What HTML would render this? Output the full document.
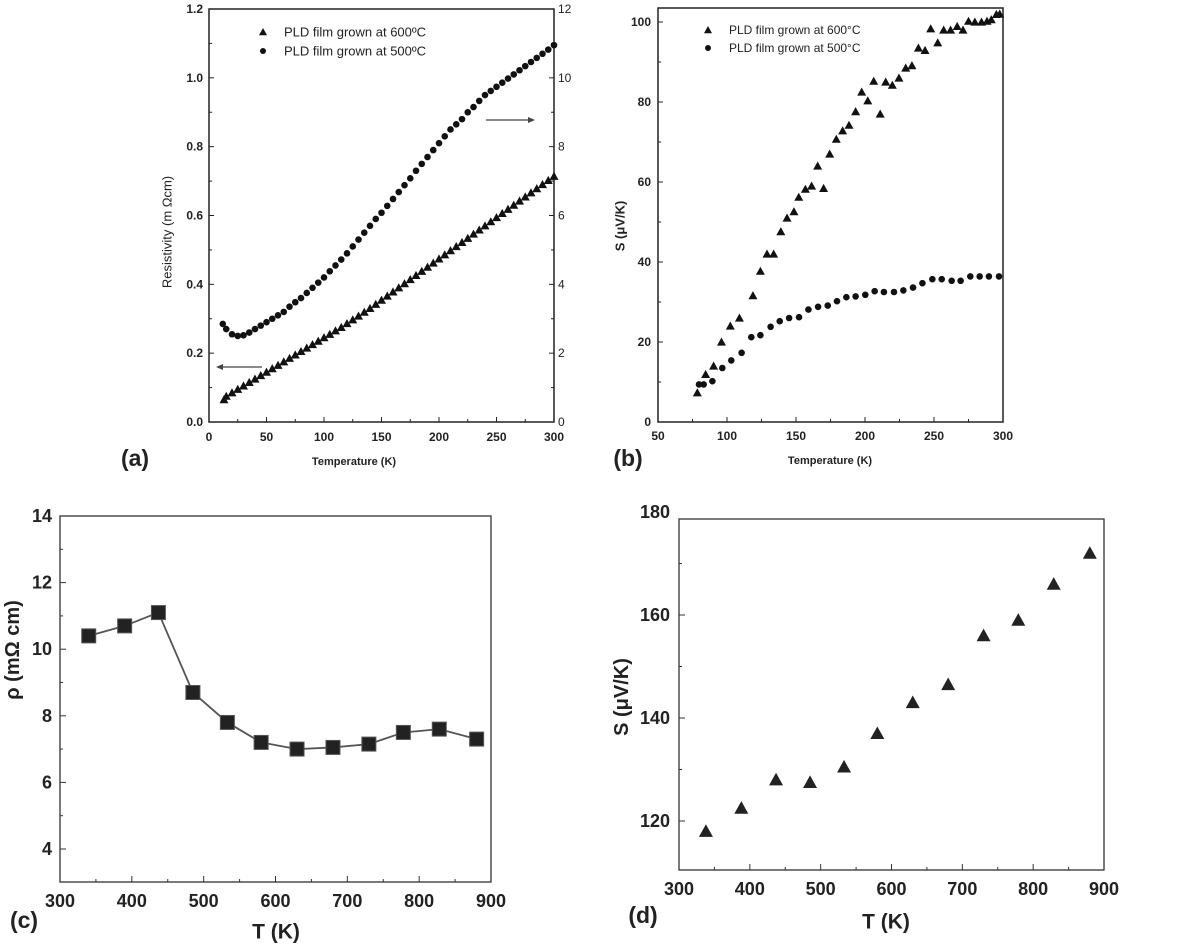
<!DOCTYPE html>
<html><head><meta charset="utf-8"><style>
html,body{margin:0;padding:0;background:#fff;}
svg{display:block;font-family:"Liberation Sans",Arial,sans-serif;}
</style></head><body>
<svg id="fig" width="1196" height="945" viewBox="0 0 1196 945" xmlns="http://www.w3.org/2000/svg"></svg>
<script>
// ---- panel (a) data ----
const aTemps = [13,15,20,25,30,35,40,45,50,55,60,65,70,75,80,85,90,95,100,105,110,115,120,125,130,135,140,145,150,155,160,165,170,175,180,185,190,195,200,205,210,215,220,225,230,235,240,245,250,255,260,265,270,275,280,285,290,295,300];
const aRho600 = [0.065,0.075,0.085,0.095,0.105,0.115,0.125,0.135,0.145,0.155,0.165,0.175,0.185,0.195,0.205,0.215,0.225,0.235,0.245,0.255,0.265,0.275,0.286,0.297,0.308,0.319,0.33,0.342,0.354,0.366,0.378,0.39,0.402,0.414,0.426,0.438,0.45,0.462,0.474,0.486,0.498,0.51,0.522,0.534,0.546,0.558,0.57,0.582,0.594,0.606,0.618,0.63,0.642,0.654,0.666,0.678,0.69,0.702,0.714];
const aTemps500 = [12,15,20,25,30,35,40,45,50,55,60,65,70,75,80,85,90,95,100,105,110,115,120,125,130,135,140,145,150,155,160,165,170,175,180,185,190,195,200,205,210,215,220,225,230,235,240,245,250,255,260,265,270,275,280,285,290,295,300];
const aRho500 = [2.85,2.7,2.55,2.5,2.52,2.6,2.7,2.8,2.9,3.0,3.1,3.2,3.35,3.48,3.6,3.75,3.9,4.05,4.2,4.38,4.55,4.72,4.9,5.1,5.3,5.5,5.7,5.9,6.08,6.28,6.48,6.68,6.88,7.08,7.3,7.5,7.7,7.9,8.1,8.3,8.5,8.65,8.8,9.0,9.15,9.33,9.5,9.62,9.74,9.86,9.98,10.1,10.22,10.34,10.46,10.58,10.7,10.82,10.95];
const aXTicks = ["0","50","100","150","200","250","300"];
const aYTicks = ["0.0","0.2","0.4","0.6","0.8","1.0","1.2"];
const aY2Ticks = ["0","2","4","6","8","10","12"];
// ---- panel (b) data ----
const bT600 = [78.5,84.5,90.3,96,102.4,109,118.8,124.2,129,133.8,139,143.5,148.5,152,156.8,161.3,165.7,170,174.4,179.2,183.8,188.4,193.2,197.6,202,206.3,211,215,219.8,224.6,229.5,234,238.7,243.5,247.6,252.7,257,262,266.8,271,275,279.6,284.4,288.4,291.5,295.2,297.6];
const bS600 = [7.3,11.9,14,20,24,26,31.6,37.7,42,42,47.6,51,52.6,56.2,58.2,59,64,58.4,67,70.7,72.8,74.2,77.6,82.5,80.3,85.2,77,85,84.2,86,88.5,89.1,93.5,92.9,98.3,94.8,98,98,98.9,98,100.2,100,100,100.2,100.6,101.9,102];
const bT500 = [79.7,83.1,89.4,96.6,103.1,110.6,117.6,124.2,131.6,138.2,145,152.2,159,166,173,179.7,186.5,193.2,200.2,207,213.7,221,227.8,234.8,241.6,248.8,255.6,262.8,269.3,276.3,283.1,289.8,297.1];
const bS500 = [9.4,9.4,10.2,13.5,15.4,17.3,21.2,21.7,23.8,25.2,26,26.2,28.1,28.8,29.1,30.2,31.2,31.4,31.8,32.7,32.5,32.5,32.9,33.6,34.7,35.7,35.7,35.3,35.3,36.4,36.4,36.4,36.4];
const bXTicks = ["50","100","150","200","250","300"];
const bYTicks = ["0","20","40","60","80","100"];
// ---- panel (c) data ----
const cT = [340,390,437,485,533,580,630,680,730,778,828,880];
const cRho = [10.4,10.7,11.1,8.7,7.8,7.2,7.0,7.05,7.15,7.5,7.6,7.3];
const cXTicks = ["300","400","500","600","700","800","900"];
const cYTicks = ["4","6","8","10","12","14"];
// ---- panel (d) data ----
const dT = [338,388,437,485,533,580,630,680,730,779,829,880];
const dS = [118,122.5,128,127.5,130.5,137,143,146.5,156,159,166,172];
const dXTicks = ["300","400","500","600","700","800","900"];
const dYTicks = ["120","140","160","180"];

const NS = "http://www.w3.org/2000/svg";
const svg = document.getElementById('fig');
function el(tag, attrs, parent){
  const e = document.createElementNS(NS, tag);
  for (const k in attrs) e.setAttribute(k, attrs[k]);
  (parent||svg).appendChild(e);
  return e;
}
function txt(s, x, y, size, anchor, weight, parent){
  const t = el('text', {x:x, y:y, 'font-size':size, 'text-anchor':anchor||'middle', 'font-weight':weight||'bold', fill:'#222', 'dominant-baseline':'central'}, parent);
  t.textContent = s;
  return t;
}
function lin(d0,d1,r0,r1){ return v => r0 + (v-d0)/(d1-d0)*(r1-r0); }
function tri(g,x,y,s){ return el('polygon',{points:`${x},${y-s} ${x-s},${y+s*0.8} ${x+s},${y+s*0.8}`, fill:'#111'},g); }

// ================= Panel A =================
(function(){
  const g = el('g',{});  
  const L=209,R=554,T=9,B=422;
  const x = lin(0,300,L,R), y = lin(0,1.2,B,T), y2 = lin(0,12,B,T);
  const frame = el('rect',{x:L,y:T,width:R-L,height:B-T,fill:'none',stroke:'#222','stroke-width':1.5},g);
   
  for(let v=0; v<=300; v+=25){ const X=x(v); el('line',{x1:X,y1:B,x2:X,y2:B-(v%50?3:5),stroke:'#222'},g); }
  aXTicks.forEach(s=>{ const t=txt(s,x(+s),437,12,'middle','bold',g);   });
  for(let i=0;i<=12;i++){ const v=i*0.1; el('line',{x1:L,y1:y(v),x2:L+(i%2?3:5),y2:y(v),stroke:'#222'},g); el('line',{x1:R,y1:y(v),x2:R-(i%2?3:5),y2:y(v),stroke:'#222'},g); }
  aYTicks.forEach(s=>{ const t=txt(s,203,y(+s),12,'end','bold',g);   });
  aY2Ticks.forEach(s=>{ const t=txt(s,558,y2(+s),12,'start','normal',g);   });
  const xt = txt('Temperature (K)',354,462,11,'middle','bold',g);  
  const yt = txt('Resistivity (m \u03A9cm)',0,0,13,'middle','normal',g); yt.setAttribute('transform','translate(167,232) rotate(-90)');
   
  const lab = txt('(a)',135,458,23,'middle','bold',g);  
  aTemps500.forEach((t,i)=>{ const c=el('circle',{cx:x(t),cy:y2(aRho500[i]),r:3.3,fill:'#111'},g);   });
  aTemps.forEach((t,i)=>{ const p=tri(g,x(t),y(aRho600[i]),4.5);   });
  const lg = el('g',{},g);  
  tri(lg,263,32,4); txt('PLD film grown at 600\u00BAC',284,32,13,'start','normal',lg);
  el('circle',{cx:263,cy:51,r:3,fill:'#111'},lg); txt('PLD film grown at 500\u00BAC',284,51,13,'start','normal',lg);
  const a1=el('g',{},g);  
  el('line',{x1:262,y1:367,x2:220,y2:367,stroke:'#444','stroke-width':1.2},a1);
  el('polygon',{points:'216,367 223,364 223,370',fill:'#444'},a1);
  const a2=el('g',{},g);  
  el('line',{x1:486,y1:120,x2:530,y2:120,stroke:'#444','stroke-width':1.2},a2);
  el('polygon',{points:'535,120 528,117 528,123',fill:'#444'},a2);
})();

// ================= Panel B =================
(function(){
  const g = el('g',{});  
  const L=658,R=1003,T=8,B=422;
  const x = lin(50,300,L,R), y = lin(0,100,B,22);
  const frame = el('rect',{x:L,y:T,width:R-L,height:B-T,fill:'none',stroke:'#222','stroke-width':1.5},g);
   
  for(let v=50; v<=300; v+=25){ const X=x(v); el('line',{x1:X,y1:B,x2:X,y2:B-(v%50?3:5),stroke:'#222'},g); }
  bXTicks.forEach(s=>{ const t=txt(s,x(+s),436,12,'middle','bold',g);   });
  for(let v=0; v<=100; v+=10){ el('line',{x1:L,y1:y(v),x2:L+(v%20?3:5),y2:y(v),stroke:'#222'},g); }
  bYTicks.forEach(s=>{ const t=txt(s,651,y(+s),12,'end','bold',g);   });
  const xt = txt('Temperature (K)',830,461,11,'middle','bold',g);  
  const yt = txt('S (\u03BCV/K)',0,0,13,'middle','bold',g); yt.setAttribute('transform','translate(620,226) rotate(-90)');
   
  const lab = txt('(b)',628,458,23,'middle','bold',g);  
  bT500.forEach((t,i)=>{ const c=el('circle',{cx:x(t),cy:y(bS500[i]),r:3.3,fill:'#111'},g);   });
  bT600.forEach((t,i)=>{ const p=tri(g,x(t),y(bS600[i]),4.5);   });
  const lg = el('g',{},g);  
  tri(lg,708,30,4); txt('PLD film grown at 600\u00B0C',729,30,12,'start','normal',lg);
  el('circle',{cx:708,cy:48,r:3,fill:'#111'},lg); txt('PLD film grown at 500\u00B0C',729,48,12,'start','normal',lg);
})();

// ================= Panel C =================
(function(){
  const g = el('g',{});  
  const L=60,R=491,T=516,B=882;
  const x = lin(300,900,L,R), y = lin(4,14,849,516);
  const frame = el('rect',{x:L,y:T,width:R-L,height:B-T,fill:'none',stroke:'#333','stroke-width':1.3},g);
   
  for(let v=350; v<900; v+=50){ const X=x(v); el('line',{x1:X,y1:B,x2:X,y2:B-(v%100?3:6),stroke:'#333'},g); }
  cXTicks.forEach(s=>{ const t=txt(s,x(+s),901,18,'middle','bold',g);   });
  for(let v=4; v<14; v+=1){ el('line',{x1:L,y1:y(v),x2:L+(v%2?3:6),y2:y(v),stroke:'#333'},g); }
  cYTicks.forEach(s=>{ const t=txt(s,52,y(+s),18,'end','bold',g);   });
  const xt = txt('T (K)',276,932,21,'middle','bold',g);  
  const yt = txt('\u03C1 (m\u03A9 cm)',0,0,20,'middle','bold',g); yt.setAttribute('transform','translate(13,650) rotate(-90)');
   
  const lab = txt('(c)',24,920,23,'middle','bold',g);  
  const line = el('polyline',{points:cT.map((t,i)=>x(t)+','+y(cRho[i])).join(' '),fill:'none',stroke:'#555','stroke-width':1.8},g);
   
  cT.forEach((t,i)=>{ const r=el('rect',{x:x(t)-7,y:y(cRho[i])-7,width:14,height:14,fill:'#222',stroke:'#555','stroke-width':1},g);   });
})();

// ================= Panel D =================
(function(){
  const g = el('g',{});  
  const L=679,R=1104,T=519,B=870;
  const x = lin(300,900,L,R), y = lin(120,180,821,512);
  const frame = el('rect',{x:L,y:T,width:R-L,height:B-T,fill:'none',stroke:'#333','stroke-width':1.3},g);
   
  for(let v=350; v<900; v+=50){ const X=x(v); el('line',{x1:X,y1:B,x2:X,y2:B-(v%100?3:6),stroke:'#333'},g); }
  dXTicks.forEach(s=>{ const t=txt(s,x(+s),889,18,'middle','bold',g);   });
  for(let v=120; v<180; v+=10){ el('line',{x1:L,y1:y(v),x2:L+(v%20?3:6),y2:y(v),stroke:'#333'},g); }
  dYTicks.forEach(s=>{ const t=txt(s,670,y(+s),18,'end','bold',g);   });
  const xt = txt('T (K)',886,922,21,'middle','bold',g);  
  const yt = txt('S (\u03BCV/K)',0,0,20,'middle','bold',g); yt.setAttribute('transform','translate(622,697) rotate(-90)');
   
  const lab = txt('(d)',643,915,23,'middle','bold',g);  
  dT.forEach((t,i)=>{ const p=tri(g,x(t),y(dS[i]),7); p.setAttribute('fill','#222');   });
})();
</script>
</body></html>
